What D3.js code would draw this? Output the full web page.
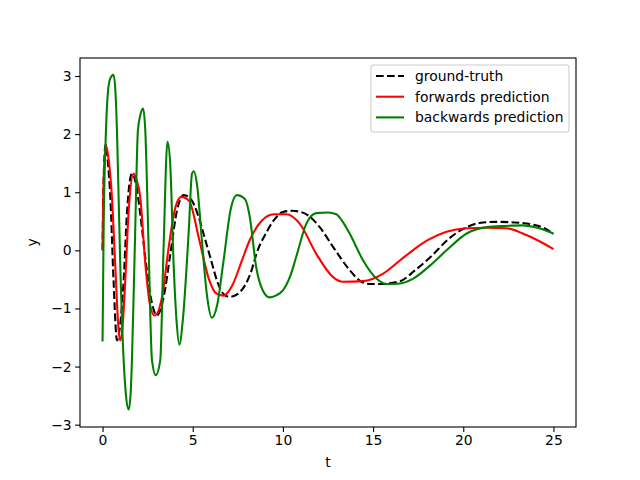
<!DOCTYPE html>
<meta charset="utf-8">
<script src="https://d3js.org/d3.v7.min.js"></script>
<style>
  body { margin: 0; background: #fff; }
  text { font-family: "DejaVu Sans", sans-serif; }
</style>
<div id="my_dataviz"></div>
<script>
// ground-truth (black dashed)
var gtT = [0, 0.05, 0.17, 0.3, 0.43, 0.61, 0.8, 0.95, 1.17, 1.35, 1.63, 1.85, 2.1, 2.4, 2.7, 3.02, 3.39, 3.76, 4.13, 4.5, 4.9, 5.3, 5.65, 6.0, 6.4, 6.7, 7.05, 7.5, 8.2, 8.6, 9.07, 9.5, 10.0, 10.5, 11.0, 11.4, 12.04, 12.78, 13.7, 14.26, 14.8, 15.3, 16.5, 17.3, 18.2, 19.2, 20.0, 20.9, 21.8, 22.8, 23.9, 24.5, 25];
var gtY = [0, 1.1, 1.82, 1.5, 0.92, -0.52, -1.55, -1.35, -0.52, 0.63, 1.32, 1.15, 0.6, -0.2, -0.85, -1.12, -0.8, -0.06, 0.69, 0.95, 0.88, 0.6, 0.23, -0.15, -0.57, -0.75, -0.8, -0.75, -0.4, 0.0, 0.3, 0.52, 0.66, 0.68, 0.66, 0.6, 0.4, 0.06, -0.34, -0.52, -0.58, -0.58, -0.53, -0.35, -0.11, 0.2, 0.37, 0.47, 0.49, 0.48, 0.44, 0.38, 0.28];

// forwards prediction (red)
var fwT = [0, 0.07, 0.2, 0.3, 0.52, 0.7, 0.89, 0.98, 1.1, 1.26, 1.44, 1.72, 1.9, 2.09, 2.37, 2.65, 2.89, 3.3, 3.67, 4.04, 4.37, 4.8, 5.37, 5.9, 6.3, 6.7, 7.2, 7.7, 8.15, 8.8, 9.5, 10.2, 10.93, 11.85, 12.78, 13.33, 14.44, 15.56, 16.5, 17.2, 18.0, 19.07, 20.2, 21.3, 22.4, 23.3, 24.2, 25];
var fwY = [0, 1.3, 1.8, 1.65, 0.92, -0.23, -1.37, -1.55, -1.35, -0.52, 0.63, 1.32, 1.2, 0.92, -0.23, -0.97, -1.12, -0.8, 0.06, 0.74, 0.92, 0.85, 0.17, -0.5, -0.74, -0.78, -0.6, -0.2, 0.17, 0.5, 0.62, 0.62, 0.46, -0.06, -0.46, -0.54, -0.53, -0.4, -0.17, 0.0, 0.17, 0.32, 0.38, 0.39, 0.38, 0.29, 0.16, 0.02];

// backwards prediction (green)
var bwT = [0, 0.06, 0.19, 0.3, 0.43, 0.61, 0.72, 0.8, 0.98, 1.17, 1.3, 1.45, 1.55, 1.63, 1.8, 1.96, 2.09, 2.25, 2.37, 2.55, 2.74, 2.95, 3.2, 3.38, 3.6, 3.75, 3.94, 4.1, 4.26, 4.45, 4.78, 4.96, 5.06, 5.25, 5.5, 5.8, 6.06, 6.35, 6.7, 7.1, 7.45, 7.9, 8.15, 8.52, 8.9, 9.26, 9.6, 10.0, 10.4, 10.74, 11.3, 11.85, 12.5, 12.96, 13.3, 13.7, 14.44, 15.2, 15.74, 16.5, 17.2, 18.2, 19.07, 20.19, 21.3, 22.3, 23.3, 24.2, 25];
var bwY = [-1.57, 0.34, 2.06, 2.73, 2.96, 3.02, 2.7, 2.06, -0.23, -1.89, -2.5, -2.74, -2.5, -1.89, 0.2, 2.06, 2.32, 2.44, 2.06, 0.1, -1.89, -2.15, -1.89, 0.0, 1.87, 1.5, -0.23, -1.2, -1.62, -1.2, 0.34, 1.32, 1.36, 1.1, 0.2, -0.8, -1.16, -0.95, -0.2, 0.7, 0.95, 0.88, 0.6, -0.29, -0.7, -0.81, -0.78, -0.69, -0.45, -0.11, 0.46, 0.64, 0.65, 0.62, 0.5, 0.29, -0.17, -0.49, -0.58, -0.57, -0.49, -0.25, 0.0, 0.29, 0.4, 0.42, 0.43, 0.38, 0.29];

var xTicks = [0, 5, 10, 15, 20, 25];
var yTicks = [-3, -2, -1, 0, 1, 2, 3];
var legendNames = ["ground-truth", "forwards prediction", "backwards prediction"];

var margin = {top: 58, right: 64, bottom: 53, left: 80},
  width = 640 - margin.left - margin.right,
  height = 480 - margin.top - margin.bottom;

var svg = d3.select("#my_dataviz")
  .append("svg")
  .attr("width", 640)
  .attr("height", 480)
  .append("g")
  .attr("transform", "translate(" + margin.left + "," + margin.top + ")");

var x = d3.scaleLinear().domain([-1.25, 26.25]).range([0, width]);
var y = d3.scaleLinear().domain([-3.04, 3.31]).range([height, 0]);

var line = d3.line()
  .x(function(d) { return x(d[0]); })
  .y(function(d) { return y(d[1]); })
  .curve(d3.curveMonotoneX);

function pairs(ts, ys) { return ts.map(function(t, i) { return [t, ys[i]]; }); }

svg.append("path").datum(pairs(gtT, gtY))
  .attr("d", line).attr("fill", "none")
  .attr("stroke", "#000").attr("stroke-width", 2.08)
  .attr("stroke-dasharray", "7.7,3.3");
svg.append("path").datum(pairs(fwT, fwY))
  .attr("d", line).attr("fill", "none")
  .attr("stroke", "#ff0000").attr("stroke-width", 2.08);
svg.append("path").datum(pairs(bwT, bwY))
  .attr("d", line).attr("fill", "none")
  .attr("stroke", "#008000").attr("stroke-width", 2.08);

// axes
var xAxis = svg.append("g")
  .attr("transform", "translate(0," + height + ")")
  .call(d3.axisBottom(x).tickValues(xTicks).tickSize(4.9).tickPadding(3.5));
var yAxis = svg.append("g")
  .call(d3.axisLeft(y).tickValues(yTicks).tickSize(4.9).tickPadding(3.5)
    .tickFormat(function(d) { return d < 0 ? "\u2212" + Math.abs(d) : d; }));
[xAxis, yAxis].forEach(function(a) {
  a.selectAll("text").style("font-size", "13.9px").attr("fill", "#000");
  a.selectAll("line").attr("stroke", "#000").attr("stroke-width", 1.1);
  a.select(".domain").remove();
});

svg.append("rect")
  .attr("width", width).attr("height", height)
  .attr("fill", "none").attr("stroke", "#000").attr("stroke-width", 1.1);

svg.append("text")
  .attr("x", width / 2).attr("y", height + 40)
  .attr("text-anchor", "middle").style("font-size", "13.9px").text("t");
svg.append("text")
  .attr("transform", "translate(-43," + (height / 2) + ") rotate(-90)")
  .attr("text-anchor", "middle").style("font-size", "13.9px").text("y");

// legend
var lg = svg.append("g").attr("transform", "translate(291,7)");
lg.append("rect")
  .attr("width", 198).attr("height", 67).attr("rx", 2.5)
  .attr("fill", "#fff").attr("fill-opacity", 0.8)
  .attr("stroke", "#ccc").attr("stroke-width", 1.1);
var legendColors = ["#000", "#ff0000", "#008000"];
legendNames.forEach(function(name, i) {
  var yy = 11 + i * 20.7;
  lg.append("line")
    .attr("x1", 5).attr("x2", 33).attr("y1", yy).attr("y2", yy)
    .attr("stroke", legendColors[i]).attr("stroke-width", 2.08)
    .attr("stroke-dasharray", i == 0 ? "7.7,3.3" : null);
  lg.append("text")
    .attr("x", 44).attr("y", yy + 5)
    .style("font-size", "13.9px").text(name);
});
</script>
